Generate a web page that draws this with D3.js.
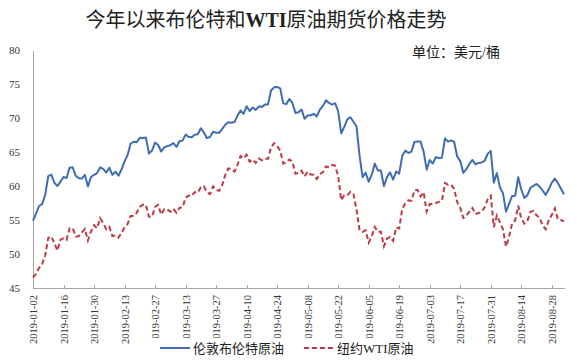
<!DOCTYPE html>
<html>
<head>
<meta charset="utf-8">
<script src="https://cdn.jsdelivr.net/npm/d3@7"></script>
<style>
    body { margin: 0; background: #fff; }
    .axis path, .axis line { stroke: #a6a6a6; shape-rendering: crispEdges; }
    .axis text { font-family: "Liberation Serif", "Times New Roman", serif; fill: #333; }
    .cjk { font-family: "Liberation Serif", "Noto Sans CJK SC", sans-serif; fill: #222; }
</style>
</head>
<body>
<div id="chart"></div>
<script>

// Chart texts
const titleParts  = ["今年以来布伦特和", "WTI", "原油期货价格走势"];
const unitLabel   = "单位：美元/桶";
const seriesNames = ["伦敦布伦特原油", "纽约WTI原油"];
const yTicks      = [45, 50, 55, 60, 65, 70, 75, 80];

// Category axis: weekdays from this date, a label every 10 days
const firstDay  = "2019-01-02";
const labelStep = 10;

// Brent, USD per barrel (one value per weekday)
const brent = [
    54.91, 55.95, 57.06, 57.33, 58.72, 61.44, 61.68, 60.48, 59.99, 60.64,
    61.32, 61.18, 62.70, 62.74, 61.50, 61.14, 61.09, 61.64, 59.93, 61.32,
    61.65, 61.89, 62.75, 62.51, 61.98, 62.69, 61.63, 62.10, 61.51, 62.42,
    63.61, 64.57, 66.25, 66.50, 66.45, 67.08, 67.07, 67.12, 64.76, 65.21,
    66.39, 66.03, 65.07, 65.67, 65.86, 65.99, 66.30, 65.74, 66.58, 66.67,
    67.55, 67.23, 67.16, 67.54, 67.61, 68.50, 67.86, 67.03, 67.21, 67.97,
    67.83, 67.82, 68.39, 69.01, 69.37, 69.31, 69.40, 70.34, 71.10, 70.61,
    71.73, 71.02, 71.55, 71.18, 71.72, 71.62, 71.97, 71.97, 74.04, 74.51,
    74.57, 74.35, 72.15, 72.04, 72.80, 72.18, 70.75, 70.85, 71.24, 69.88,
    70.37, 70.39, 70.62, 70.23, 71.24, 71.77, 72.62, 72.21, 71.97, 72.18,
    70.99, 67.76, 68.69, 69.80, 70.11, 69.45, 68.76, 64.49, 61.28, 61.97,
    60.63, 61.67, 63.29, 62.29, 62.29, 59.97, 61.31, 62.01, 60.94, 62.14,
    61.82, 64.45, 65.20, 64.86, 65.05, 66.49, 66.55, 66.55, 65.06, 62.40,
    63.82, 63.30, 64.23, 64.11, 64.16, 67.01, 66.52, 66.72, 66.48, 64.35,
    63.66, 61.93, 62.47, 63.26, 63.83, 63.18, 63.39, 63.46, 63.71, 64.72,
    65.17, 60.50, 61.89, 59.81, 58.94, 56.23, 57.38, 58.53, 58.57, 61.30,
    59.48, 58.23, 58.64, 59.74, 60.03, 60.30, 59.92, 59.34, 58.70, 59.51,
    60.49, 61.08, 60.43, 59.60, 58.80
];

// WTI, USD per barrel
const wti = [
    46.54, 47.09, 47.96, 48.52, 49.78, 52.36, 52.59, 51.59, 50.51, 52.11,
    52.31, 52.07, 53.80, 53.80, 52.57, 52.62, 53.13, 53.69, 51.99, 53.31,
    54.23, 53.79, 55.26, 54.56, 53.66, 54.01, 52.64, 52.72, 52.41, 53.10,
    53.90, 54.41, 55.59, 55.59, 56.09, 56.92, 57.26, 57.26, 55.48, 55.50,
    56.94, 57.22, 55.80, 56.59, 56.56, 56.22, 56.66, 56.07, 56.79, 56.87,
    58.26, 58.61, 58.52, 59.09, 59.03, 59.83, 59.98, 59.04, 58.82, 59.94,
    59.41, 59.30, 60.14, 61.59, 62.58, 62.46, 62.10, 63.08, 64.40, 64.08,
    64.61, 63.58, 63.89, 63.40, 64.05, 63.76, 64.00, 64.00, 65.70, 66.30,
    65.89, 65.21, 63.30, 63.50, 63.91, 63.60, 61.81, 61.94, 62.25, 61.40,
    62.12, 61.70, 61.66, 61.04, 61.78, 62.02, 62.87, 62.76, 63.10, 62.99,
    61.42, 57.91, 58.63, 58.63, 59.14, 58.81, 56.59, 53.50, 53.25, 53.48,
    51.68, 52.59, 53.99, 53.26, 53.27, 51.14, 52.28, 52.51, 51.93, 53.90,
    53.76, 56.65, 57.43, 57.90, 57.83, 59.38, 59.43, 58.47, 59.09, 56.25,
    57.34, 57.34, 57.51, 57.66, 57.83, 60.43, 60.20, 60.21, 59.58, 57.62,
    56.78, 55.30, 55.63, 56.22, 56.77, 55.88, 56.02, 56.20, 56.87, 58.05,
    58.58, 53.95, 55.66, 54.69, 53.63, 51.09, 52.54, 54.50, 54.93, 57.10,
    55.23, 54.47, 54.87, 56.21, 56.34, 55.68, 55.35, 54.17, 53.64, 54.93,
    55.78, 56.71, 55.10, 55.00, 54.80
];

// Build the weekday dates for the category axis
let fmt = d3.timeFormat("%Y-%m-%d");
let dates = [];
let day = d3.timeParse("%Y-%m-%d")(firstDay);
while (dates.length < brent.length) {
    if (day.getDay() !== 0 && day.getDay() !== 6) dates.push(fmt(day));
    day = d3.timeDay.offset(day, 1);
}

let margin = {top: 50, right: 13, bottom: 74, left: 33};
let width  = 577, height = 362;
let xwidth  = width - margin.left - margin.right;
let yheight = height - margin.top - margin.bottom;

let svg = d3.select("#chart")
    .append("svg")
        .attr("width", width)
        .attr("height", height);

let g = svg.append("g")
    .attr("transform", "translate(" + margin.left + "," + margin.top + ")");

let x = d3.scalePoint().domain(dates).range([0, xwidth]);
let y = d3.scaleLinear().domain([45, 80]).range([yheight, 0]);

// Y axis
g.append("g")
    .attr("class", "axis y")
    .call(d3.axisLeft(y).tickValues(yTicks).tickSize(0).tickPadding(13))
    .selectAll("text")
        .attr("font-size", 11);

// X axis, rotated labels
let xg = g.append("g")
    .attr("class", "axis x")
    .attr("transform", "translate(0," + yheight + ")")
    .call(d3.axisBottom(x)
        .tickValues(dates.filter((d, i) => i % labelStep === 0))
        .tickSizeInner(-3).tickSizeOuter(0));
xg.selectAll("text")
    .attr("font-size", 10.5)
    .attr("transform", "rotate(-90)")
    .attr("text-anchor", "end")
    .attr("x", -7)
    .attr("y", 0)
    .attr("dy", "0.35em");

// Lines
let line = values => d3.line()
    .x((d, i) => x(dates[i]))
    .y(d => y(d))(values);

g.append("path")
    .attr("d", line(brent))
    .attr("fill", "none")
    .attr("stroke", "#3f6db3")
    .attr("stroke-width", 2)
    .attr("stroke-linejoin", "round");

g.append("path")
    .attr("d", line(wti))
    .attr("fill", "none")
    .attr("stroke", "#bd3b45")
    .attr("stroke-width", 2)
    .attr("stroke-dasharray", "5,3");

// Title
let title = svg.append("text")
    .attr("class", "cjk")
    .attr("x", 266).attr("y", 27)
    .attr("text-anchor", "middle")
    .attr("font-size", 20);
title.append("tspan").text(titleParts[0]);
title.append("tspan").attr("font-weight", "bold").text(titleParts[1]);
title.append("tspan").text(titleParts[2]);

// Unit
svg.append("text")
    .attr("class", "cjk")
    .attr("x", 500).attr("y", 57)
    .attr("text-anchor", "end")
    .attr("font-size", 14)
    .text(unitLabel);

// Legend (white box hides the ends of some date labels)
let legend = svg.append("g");
legend.append("rect")
    .attr("x", 149).attr("y", 338)
    .attr("width", 279).attr("height", 24)
    .attr("fill", "#fff");

let items = [
    {name: seriesNames[0], color: "#3f6db3", dash: null,  x: 160},
    {name: seriesNames[1], color: "#bd3b45", dash: "5,3", x: 304}
];
items.forEach(function(it) {
    legend.append("line")
        .attr("x1", it.x).attr("x2", it.x + 30)
        .attr("y1", 348).attr("y2", 348)
        .attr("stroke", it.color)
        .attr("stroke-width", 2)
        .attr("stroke-dasharray", it.dash);
    legend.append("text")
        .attr("class", "cjk")
        .attr("x", it.x + 33).attr("y", 348)
        .attr("dy", "0.35em")
        .attr("font-size", 13)
        .text(it.name);
});

</script>
</body>
</html>
